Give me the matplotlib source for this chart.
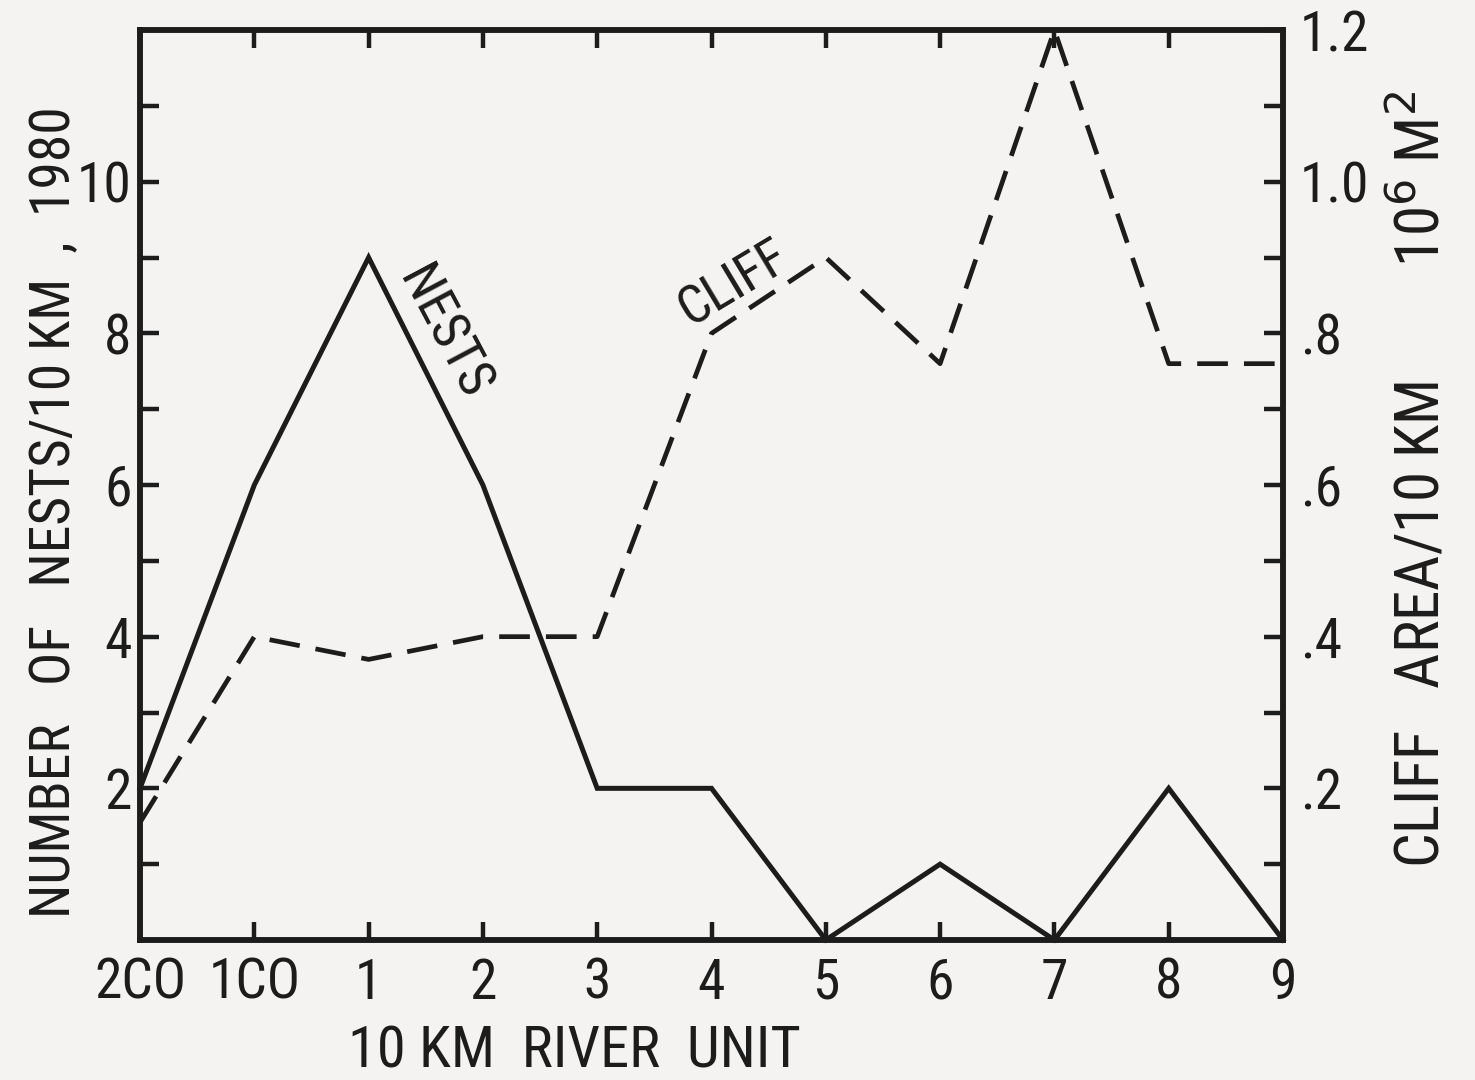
import matplotlib
matplotlib.use("Agg")
import matplotlib.pyplot as plt
from matplotlib.ticker import FixedLocator

plt.rcParams['font.family'] = ['Roboto Condensed', 'Liberation Sans Narrow',
                               'Liberation Sans', 'DejaVu Sans']

units = ['2CO', '1CO', '1', '2', '3', '4', '5', '6', '7', '8', '9']
nests = [2, 6, 9, 6, 2, 2, 0, 1, 0, 2, 0]
cliff = [0.155, 0.40, 0.37, 0.40, 0.40, 0.80, 0.90, 0.76, 1.20, 0.76, 0.76]
left_ticks = [2, 4, 6, 8, 10]
left_labels = ['2', '4', '6', '8', '10']
right_ticks = [0.2, 0.4, 0.6, 0.8, 1.0, 1.2]
right_labels = ['.2', '.4', '.6', '.8', '1.0', '1.2']

ink = '#1c1c1c'
paper = '#f4f3f2'
fs = 40

fig = plt.figure(figsize=(14.75, 10.8), dpi=100, facecolor=paper)
ax = fig.add_axes([140/1475, 1-940/1080, (1283-140)/1475, (940-30)/1080])
ax.set_facecolor(paper)
x = list(range(len(units)))

ax.plot(x, nests, color=ink, lw=3.6, solid_joinstyle='miter', clip_on=False, zorder=3)
ax.set_xlim(0, len(units)-1)
ax.set_ylim(0, 12)

ax2 = ax.twinx()
ax2.plot(x, cliff, color=ink, lw=3.4, dashes=(6.5, 3.4), clip_on=False, zorder=3)
ax2.set_ylim(0, 1.2)

for a in (ax, ax2):
    for s in a.spines.values():
        s.set_linewidth(4)
        s.set_color(ink)

ax.set_xticks(x)
ax.set_xticklabels(units, fontsize=fs, color=ink)
ax.tick_params(axis='x', which='both', direction='in', length=13, width=3.2,
               top=True, color=ink, pad=12)
ax.yaxis.set_major_locator(FixedLocator(left_ticks))
ax.set_yticklabels(left_labels, fontsize=fs, color=ink)
ax.yaxis.set_minor_locator(FixedLocator([1, 3, 5, 7, 9, 11]))
ax.tick_params(axis='y', which='both', direction='in', length=14, width=3.2,
               color=ink, pad=6, right=False)

ax2.yaxis.set_major_locator(FixedLocator(right_ticks))
ax2.set_yticklabels(right_labels, fontsize=fs, color=ink)
ax2.yaxis.set_minor_locator(FixedLocator([0.1, 0.3, 0.5, 0.7, 0.9, 1.1]))
ax2.tick_params(axis='y', which='both', direction='in', length=14, width=3.2,
                color=ink, pad=12)

fig.text(574/1475, 1-1052/1080, '10 KM  RIVER  UNIT', fontsize=42, color=ink,
         ha='center', va='center')
fig.text(55/1475, 1-512/1080, 'NUMBER   OF   NESTS/10 KM  ,  1980', fontsize=fs,
         color=ink, rotation=90, ha='center', va='center')
fig.text(1421/1475, 1-479/1080, 'CLIFF   AREA/10 KM        10$^6$ M$^2$', fontsize=44,
         color=ink, rotation=90, ha='center', va='center')

ax.text(2.65, 8.0, 'NESTS', fontsize=38, color=ink, rotation=-62,
        ha='center', va='center')
ax.text(5.2, 8.66, 'CLIFF', fontsize=38, color=ink, rotation=31,
        ha='center', va='center')

fig.savefig('out.png', dpi=100, facecolor=paper)
